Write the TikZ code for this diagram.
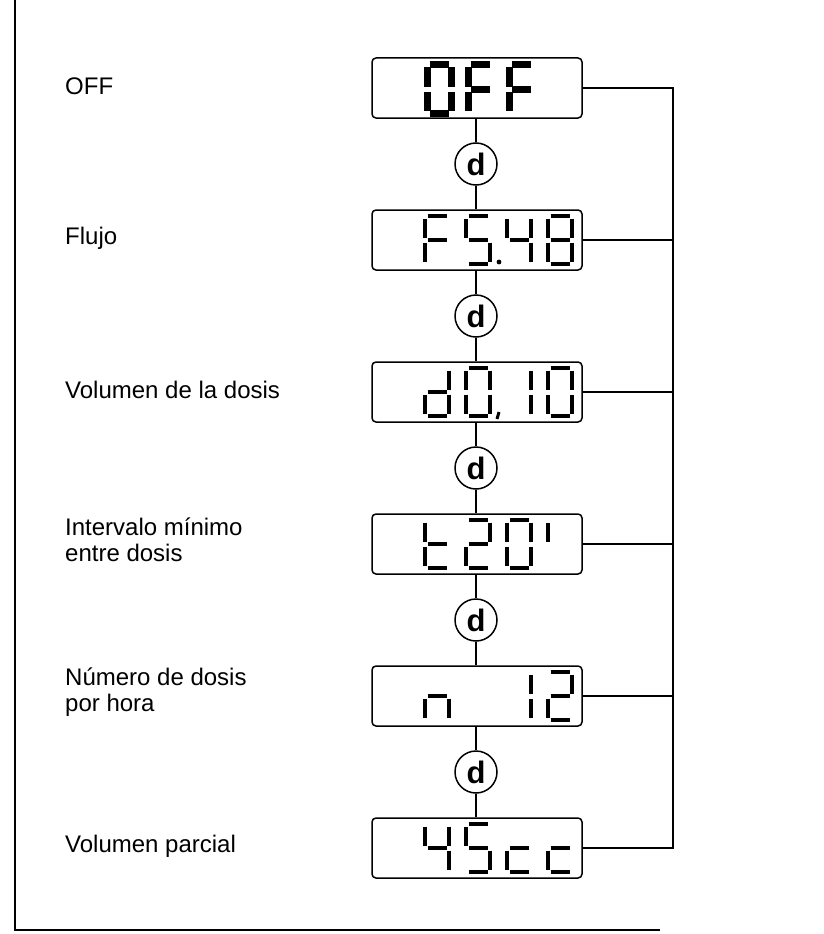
\documentclass[tikz,border=0pt]{standalone}
\usepackage{fontspec}
\setmainfont{Liberation Sans}
\def\SGa{\draw[seg] (2.5,0)--(21.5,0);}
\def\SGb{\draw[seg] (24,2.5)--(24,21.5);}
\def\SGc{\draw[seg] (24,26.5)--(24,45.5);}
\def\SGd{\draw[seg] (2.5,48)--(21.5,48);}
\def\SGe{\draw[seg] (0,26.5)--(0,45.5);}
\def\SGf{\draw[seg] (0,2.5)--(0,21.5);}
\def\SGg{\draw[seg] (2.5,24)--(21.5,24);}
\newcommand\sevdigit[3]{\begin{scope}[shift={(#1,#2)}]\foreach \s in {#3}{\csname SG\s\endcsname}\end{scope}}
\begin{document}
\begin{tikzpicture}[x=1pt,y=-1pt,
  seg/.style={line width=4.2pt, line cap=butt},
  disp/.style={draw, line width=1.5pt, rounded corners=4pt, minimum width=210pt, minimum height=60pt, inner sep=0pt},
  dbtn/.style={draw, circle, line width=1.5pt, minimum size=42pt, inner sep=0pt, font=\fontsize{31}{31}\selectfont\bfseries},
  lab/.style={anchor=west, align=left, inner sep=0pt, font=\fontsize{24}{26}\selectfont},
  conn/.style={line width=1.5pt}]
\useasboundingbox (0,0) rectangle (823,934);
% frame
\coordinate (ftop) at (15,0);
\coordinate (fcorner) at (15,930);
\coordinate (fend) at (660,930);
\draw[line width=2pt] (ftop) -- (fcorner) -- (fend);
% displays
\node[disp] (D1) at (477,88) {};
\node[disp] (D2) at (477,240) {};
\node[disp] (D3) at (477,392) {};
\node[disp] (D4) at (477,544) {};
\node[disp] (D5) at (477,696) {};
\node[disp] (D6) at (477,848) {};
% d buttons
\node[dbtn] (C1) at (476,164) {d};
\node[dbtn] (C2) at (476,316) {d};
\node[dbtn] (C3) at (476,468) {d};
\node[dbtn] (C4) at (476,620) {d};
\node[dbtn] (C5) at (476,772) {d};
% vertical chain
\draw[conn] (D1.south -| C1) -- (C1.north);
\draw[conn] (C1.south) -- (D2.north -| C1);
\draw[conn] (D2.south -| C2) -- (C2.north);
\draw[conn] (C2.south) -- (D3.north -| C2);
\draw[conn] (D3.south -| C3) -- (C3.north);
\draw[conn] (C3.south) -- (D4.north -| C3);
\draw[conn] (D4.south -| C4) -- (C4.north);
\draw[conn] (C4.south) -- (D5.north -| C4);
\draw[conn] (D5.south -| C5) -- (C5.north);
\draw[conn] (C5.south) -- (D6.north -| C5);
% bus
\coordinate (bt) at (673,88);
\coordinate (bb) at (673,848);
\draw[conn] (D1.east) -- (bt) -- (bb) -- (D6.east);
\draw[conn] (D2.east) -- (D2.east -| bt);
\draw[conn] (D3.east) -- (D3.east -| bt);
\draw[conn] (D4.east) -- (D4.east -| bt);
\draw[conn] (D5.east) -- (D5.east -| bt);
% labels
\node[lab] (L1) at (65,86) {OFF};
\node[lab] (L2) at (65,238) {Flujo};
\node[lab] (L3) at (65,390) {Volumen de la dosis};
\node[lab] (L4) at (65,540) {Intervalo mínimo\\entre dosis};
\node[lab] (L5) at (65,692) {Número de dosis\\por hora};
\node[lab] (L6) at (65,846) {Volumen parcial};
% digits: OFF (bold)
\begin{scope}[seg/.append style={line width=7pt}]
\sevdigit{427}{65}{a,b,c,d,e,f}
\sevdigit{468}{65}{a,f,g,e}
\sevdigit{509}{65}{a,f,g,e}
\end{scope}
% F5.48
\sevdigit{425}{216}{a,f,g,e}
\sevdigit{466}{216}{a,f,g,c,d}
\fill (499,262) circle (2.4);
\sevdigit{507}{216}{f,g,b,c}
\sevdigit{548}{216}{a,b,c,d,e,f,g}
% d0.10
\sevdigit{425}{368}{b,c,d,e,g}
\sevdigit{466}{368}{a,b,c,d,e,f}
\draw[line width=3pt] (499,412) -- (497,419);
\sevdigit{507}{368}{b,c}
\sevdigit{548}{368}{a,b,c,d,e,f}
% t20'
\sevdigit{425}{520}{f,e,d,g}
\sevdigit{466}{520}{a,b,g,e,d}
\sevdigit{507}{520}{a,b,c,d,e,f}
\sevdigit{548}{520}{f}
% n  12
\sevdigit{425}{672}{g,e,c}
\sevdigit{507}{672}{b,c}
\sevdigit{548}{672}{a,b,g,e,d}
% 45cc
\sevdigit{425}{824}{f,g,b,c}
\sevdigit{466}{824}{a,f,g,c,d}
\sevdigit{507}{824}{g,e,d}
\sevdigit{548}{824}{g,e,d}
\end{tikzpicture}
\end{document}
